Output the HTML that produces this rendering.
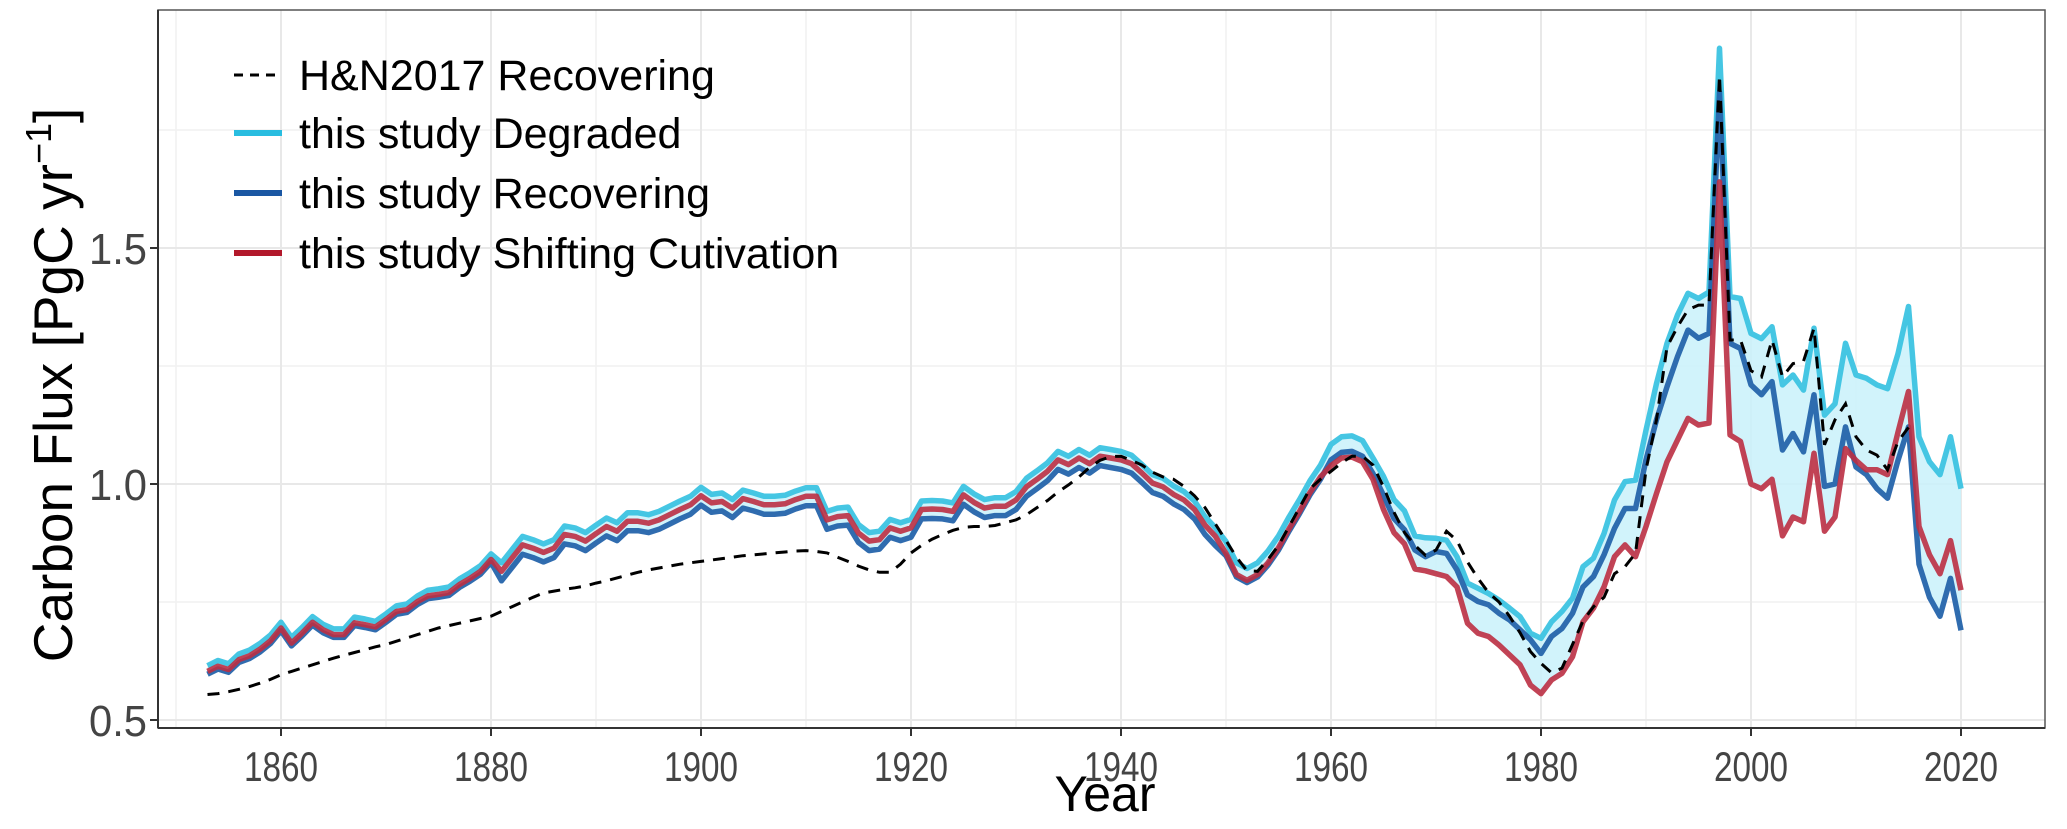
<!DOCTYPE html>
<html><head><meta charset="utf-8"><style>
html,body{margin:0;padding:0;background:#fff;}
svg{display:block;}
text{font-family:"Liberation Sans",Arial,sans-serif;}
</style></head><body>
<svg id="chart" width="2067" height="829" viewBox="0 0 2067 829" xmlns="http://www.w3.org/2000/svg">
<rect x="158" y="10" width="1887" height="718" fill="#fff"/>
<g id="grid"></g>
<g id="series"></g>
<rect x="158" y="10" width="1887" height="718" fill="none" stroke="#555" stroke-width="1.5"/>
<g id="axes"></g>
<text x="1105" y="811" font-size="50" text-anchor="middle" fill="#000">Year</text>
<text transform="translate(72,385) rotate(-90)" font-size="55" text-anchor="middle" fill="#000">Carbon Flux [PgC yr<tspan dy="-21" font-size="36">−1</tspan><tspan dy="21">]</tspan></text>
<g id="legend">
  <g>
    <line x1="234" y1="75" x2="282" y2="75" stroke="#000" stroke-width="3" stroke-dasharray="9,7"/>
    <text x="299" y="90" font-size="43" fill="#000">H&amp;N2017 Recovering</text>
  </g>
  <g>
    <line x1="234" y1="133" x2="282" y2="133" stroke="#29bde0" stroke-width="6"/>
    <text x="299" y="148" font-size="43" fill="#000">this study Degraded</text>
  </g>
  <g>
    <line x1="234" y1="193" x2="282" y2="193" stroke="#1a57a3" stroke-width="6"/>
    <text x="299" y="208" font-size="43" fill="#000">this study Recovering</text>
  </g>
  <g>
    <line x1="234" y1="253" x2="282" y2="253" stroke="#b2182b" stroke-width="6"/>
    <text x="299" y="268" font-size="43" fill="#000">this study Shifting Cutivation</text>
  </g>
</g>
</svg>
<script>
const startYear = 1853;
const degraded = [
.615,.626,.619,.640,.648,.662,.680,
.707,.675,.696,.719,.703,.693,.693,.718,.714,.709,
.725,.742,.746,.763,.775,.778,.782,.799,.812,.827,
.852,.833,.861,.889,.882,.873,.882,.911,.907,.897,
.913,.928,.918,.939,.939,.935,.942,.953,.964,.974,
.993,.978,.981,.967,.987,.981,.974,.974,.976,.985,
.992,.992,.942,.949,.951,.914,.897,.900,.925,.918,
.925,.964,.965,.964,.960,.995,.979,.967,.971,.971,
.984,1.012,1.028,1.045,1.069,1.059,1.073,1.061,1.077,1.073,
1.069,1.061,1.041,1.020,1.012,.996,.984,.964,.931,.907,
.878,.833,.821,.833,.858,.890,.930,.967,1.007,1.040,
1.084,1.100,1.102,1.092,1.055,1.016,.967,.943,.890,.886,
.885,.881,.846,.790,.779,.768,.754,.737,.719,.684,
.673,.708,.730,.758,.825,.843,.895,.966,1.005,1.008,
1.114,1.213,1.298,1.358,1.404,1.393,1.407,1.923,1.397,1.393,
1.319,1.308,1.333,1.210,1.231,1.199,1.330,1.146,1.170,1.298,
1.231,1.224,1.210,1.202,1.276,1.376,1.100,1.047,1.020,1.100,
.990];
const recovering = [
.597,.608,.601,.622,.630,.644,.662,
.689,.657,.678,.701,.685,.675,.675,.700,.696,.691,
.707,.724,.728,.745,.757,.760,.764,.781,.794,.809,
.834,.795,.823,.851,.844,.835,.844,.873,.869,.859,
.875,.890,.880,.901,.901,.897,.904,.915,.926,.936,
.955,.940,.943,.929,.949,.943,.936,.936,.938,.947,
.954,.954,.904,.911,.913,.876,.859,.862,.887,.880,
.887,.926,.927,.926,.922,.957,.941,.929,.933,.933,
.946,.974,.990,1.007,1.031,1.021,1.035,1.023,1.039,1.035,
1.031,1.023,1.003,.982,.974,.958,.946,.926,.893,.869,
.848,.803,.791,.803,.828,.860,.900,.937,.977,1.010,
1.051,1.067,1.069,1.059,1.022,.976,.927,.903,.860,.846,
.857,.853,.818,.765,.751,.744,.726,.712,.691,.670,
.641,.677,.694,.726,.782,.804,.850,.906,.948,.948,
1.051,1.136,1.206,1.270,1.326,1.309,1.319,1.830,1.298,1.287,
1.210,1.189,1.217,1.072,1.107,1.068,1.189,.995,1.000,1.121,
1.036,1.020,.990,.970,1.050,1.121,.830,.760,.720,.800,
.690];
const shifting = [
.603,.614,.607,.628,.636,.650,.668,
.695,.663,.684,.707,.691,.681,.681,.706,.702,.697,
.713,.730,.734,.751,.763,.766,.770,.787,.800,.815,
.840,.815,.843,.871,.864,.855,.864,.893,.889,.879,
.895,.910,.900,.921,.921,.917,.924,.935,.946,.956,
.975,.960,.963,.949,.969,.963,.956,.956,.958,.967,
.974,.974,.924,.931,.933,.896,.879,.882,.907,.900,
.907,.946,.947,.946,.942,.977,.961,.949,.953,.953,
.966,.994,1.010,1.027,1.051,1.041,1.055,1.043,1.059,1.055,
1.051,1.043,1.023,1.002,.994,.978,.966,.946,.913,.889,
.853,.808,.796,.808,.833,.865,.905,.942,.982,1.015,
1.039,1.055,1.057,1.047,1.010,.946,.897,.873,.820,.816,
.810,.804,.782,.705,.684,.677,.659,.638,.617,.574,
.556,.585,.599,.634,.708,.737,.782,.846,.871,.846,
.910,.980,1.047,1.093,1.139,1.125,1.129,1.640,1.104,1.090,
1.000,.990,1.010,.890,.930,.920,1.065,.900,.930,1.075,
1.050,1.030,1.030,1.020,1.110,1.196,.910,.850,.810,.880,
.775];
const hn2017 = [
.554,.556,.560,.565,.571,.578,.586,
.596,.603,.610,.617,.624,.631,.637,.643,.649,.655,
.660,.667,.674,.681,.688,.695,.700,.705,.710,.715,
.720,.730,.740,.750,.760,.769,.773,.777,.780,.784,
.790,.795,.801,.807,.813,.818,.822,.826,.830,.833,
.836,.839,.842,.845,.848,.850,.852,.854,.856,.858,
.859,.857,.854,.845,.836,.826,.818,.813,.813,.830,
.854,.870,.883,.893,.902,.908,.910,.910,.912,.918,
.924,.935,.950,.965,.983,.998,1.015,1.035,1.050,1.058,
1.059,1.050,1.040,1.025,1.015,1.010,.995,.975,.950,.915,
.880,.845,.816,.815,.840,.870,.910,.950,.990,1.010,
1.027,1.045,1.059,1.059,1.040,.994,.940,.897,.870,.849,
.860,.900,.880,.835,.800,.770,.750,.720,.685,.645,
.620,.600,.610,.660,.710,.740,.760,.810,.825,.853,
1.030,1.136,1.290,1.333,1.369,1.379,1.379,1.866,1.305,1.305,
1.240,1.227,1.305,1.227,1.255,1.260,1.330,1.083,1.136,1.170,
1.100,1.072,1.061,1.030,1.090,1.120];
const xMajorTicks = [1860,1880,1900,1920,1940,1960,1980,2000,2020];
const xMinorTicks = [1850,1870,1890,1910,1930,1950,1970,1990,2010];
const yMajorTicks = [0.5,1.0,1.5];
const yMajorLabels = ["0.5","1.0","1.5"];
const yMinorTicks = [0.75,1.25,1.75];

const NS = "http://www.w3.org/2000/svg";
const PL = 158, PR = 2045, PT = 10, PB = 728;
function xs(yr){ return 281 + (yr - 1860) * 10.5; }
function ys(v){ return 484 - (v - 1) * 472; }
function mk(tag, attrs, parent){
  const e = document.createElementNS(NS, tag);
  for (const k in attrs) e.setAttribute(k, attrs[k]);
  parent.appendChild(e);
  return e;
}
const gridG = document.getElementById('grid');
const axesG = document.getElementById('axes');
const seriesG = document.getElementById('series');

xMinorTicks.forEach(t => {
  const l = mk('line', {x1: xs(t), x2: xs(t), y1: PT, y2: PB, stroke: '#f1f1f1', 'stroke-width': 1.5}, gridG);
  
  
});
yMinorTicks.forEach(t => {
  const l = mk('line', {x1: PL, x2: PR, y1: ys(t), y2: ys(t), stroke: '#f1f1f1', 'stroke-width': 1.5}, gridG);
  
  
});
xMajorTicks.forEach(t => {
  const l = mk('line', {x1: xs(t), x2: xs(t), y1: PT, y2: PB, stroke: '#e8e8e8', 'stroke-width': 2}, gridG);
  
  
  const tk = mk('line', {x1: xs(t), x2: xs(t), y1: PB, y2: PB + 8, stroke: '#333', 'stroke-width': 2}, axesG);
  
  
  const tx = mk('text', {x: xs(t), y: 781, 'font-size': 42, 'text-anchor': 'middle', fill: '#444', textLength: 74, lengthAdjust: 'spacingAndGlyphs'}, axesG);
  tx.textContent = String(t);
  
  
});
yMajorTicks.forEach((t, i) => {
  const l = mk('line', {x1: PL, x2: PR, y1: ys(t), y2: ys(t), stroke: '#e8e8e8', 'stroke-width': 2}, gridG);
  
  
  const tk = mk('line', {x1: PL - 8, x2: PL, y1: ys(t), y2: ys(t), stroke: '#333', 'stroke-width': 2}, axesG);
  
  
  const tx = mk('text', {x: 147, y: ys(t) + 16, 'font-size': 44, 'text-anchor': 'end', fill: '#444', textLength: 58, lengthAdjust: 'spacingAndGlyphs'}, axesG);
  tx.textContent = yMajorLabels[i];
  
  
});
const axL = mk('line', {x1: PL, x2: PL, y1: PT, y2: PB, stroke: '#333', 'stroke-width': 2}, axesG);


const axB = mk('line', {x1: PL, x2: PR, y1: PB, y2: PB, stroke: '#333', 'stroke-width': 2}, axesG);



const topPts = [], botPts = [];
for (let i = 0; i < degraded.length; i++) {
  const yr = startYear + i;
  const hi = Math.max(degraded[i], recovering[i], shifting[i]);
  const lo = Math.min(degraded[i], recovering[i], shifting[i]);
  topPts.push(xs(yr).toFixed(1) + ',' + ys(hi).toFixed(1));
  botPts.unshift(xs(yr).toFixed(1) + ',' + ys(lo).toFixed(1));
}
const rib = mk('polygon', {points: topPts.concat(botPts).join(' '), fill: '#c9f1fa', 'fill-opacity': 0.85}, seriesG);



function pts(arr){ return arr.map((v, i) => xs(startYear + i).toFixed(1) + ',' + ys(v).toFixed(1)).join(' '); }
const lDeg = mk('polyline', {points: pts(degraded), fill: 'none', stroke: '#3cc3e2', 'stroke-width': 5.5, 'stroke-linejoin': 'round', 'stroke-opacity': 0.95}, seriesG);


const lRec = mk('polyline', {points: pts(recovering), fill: 'none', stroke: '#2564ab', 'stroke-width': 5.5, 'stroke-linejoin': 'round', 'stroke-opacity': 0.95}, seriesG);


const lShift = mk('polyline', {points: pts(shifting), fill: 'none', stroke: '#bb2f43', 'stroke-width': 5.5, 'stroke-linejoin': 'round', 'stroke-opacity': 0.9}, seriesG);


const lHN = mk('polyline', {points: pts(hn2017), fill: 'none', stroke: '#000', 'stroke-width': 3, 'stroke-dasharray': '12,9'}, seriesG);


</script>
</body></html>
